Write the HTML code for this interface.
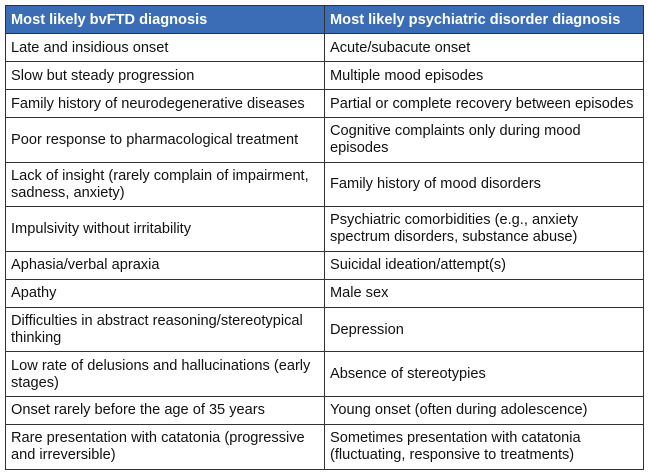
<!DOCTYPE html>
<html><head><meta charset="utf-8"><style>
body{margin:0;background:#fff;width:648px;height:475px;overflow:hidden;font-family:"Liberation Sans",Arial,sans-serif;}
table{position:absolute;left:5px;top:5px;border-collapse:collapse;width:638px;table-layout:fixed;}
td,th{border:1px solid #333;font-size:14.6px;line-height:17px;color:#111;padding:1px 4px 0 5px;text-align:left;vertical-align:middle;box-sizing:border-box;}
th{background:#3a6db5;color:#fff;font-weight:bold;height:28px;}
td{height:28px}
tr.d td{height:44.6px}
</style></head><body>
<table>
<colgroup><col style="width:319px"><col style="width:319px"></colgroup>
<tr><th>Most likely bvFTD diagnosis</th><th>Most likely psychiatric disorder diagnosis</th></tr>
<tr><td>Late and insidious onset</td><td>Acute/subacute onset</td></tr>
<tr><td>Slow but steady progression</td><td>Multiple mood episodes</td></tr>
<tr><td>Family history of neurodegenerative diseases</td><td>Partial or complete recovery between episodes</td></tr>
<tr class="d"><td>Poor response to pharmacological treatment</td><td>Cognitive complaints only during mood<br>episodes</td></tr>
<tr class="d"><td>Lack of insight (rarely complain of impairment,<br>sadness, anxiety)</td><td>Family history of mood disorders</td></tr>
<tr class="d"><td>Impulsivity without irritability</td><td>Psychiatric comorbidities (e.g., anxiety<br>spectrum disorders, substance abuse)</td></tr>
<tr><td>Aphasia/verbal apraxia</td><td>Suicidal ideation/attempt(s)</td></tr>
<tr><td>Apathy</td><td>Male sex</td></tr>
<tr class="d"><td>Difficulties in abstract reasoning/stereotypical<br>thinking</td><td>Depression</td></tr>
<tr class="d"><td>Low rate of delusions and hallucinations (early<br>stages)</td><td>Absence of stereotypies</td></tr>
<tr><td>Onset rarely before the age of 35 years</td><td>Young onset (often during adolescence)</td></tr>
<tr class="d"><td>Rare presentation with catatonia (progressive<br>and irreversible)</td><td>Sometimes presentation with catatonia<br>(fluctuating, responsive to treatments)</td></tr>
</table>
</body></html>
